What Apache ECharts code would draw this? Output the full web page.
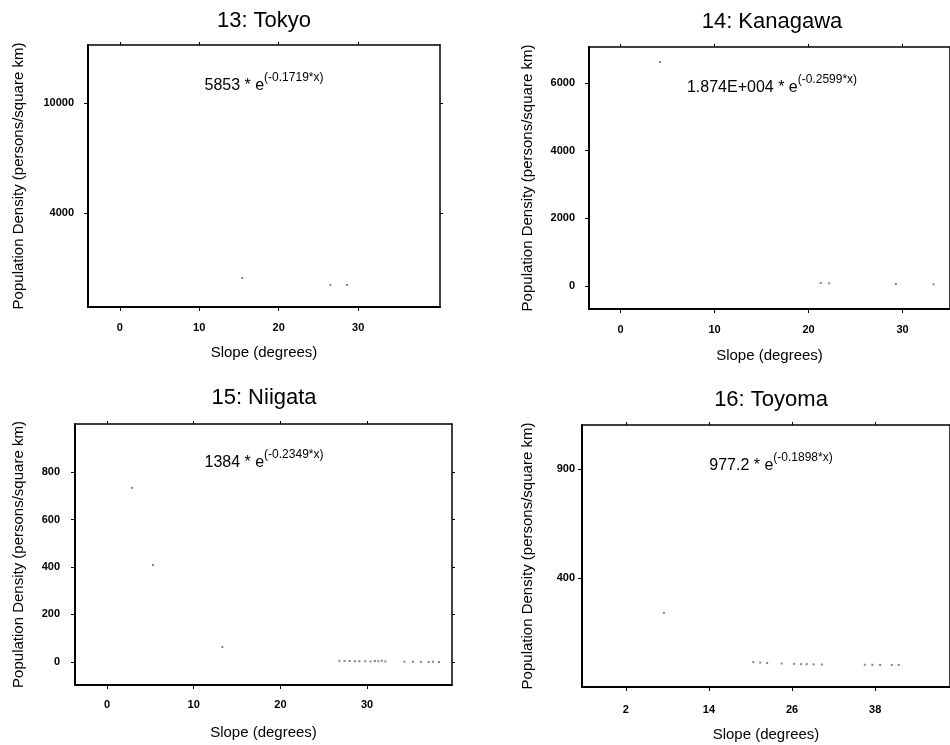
<!DOCTYPE html>
<html>
<head>
<meta charset="utf-8">
<script src="https://cdn.jsdelivr.net/npm/echarts@6/dist/echarts.min.js"></script>
<style>
html,body{margin:0;padding:0;background:#fff;}
#chart{width:950px;height:745px;}
</style>
</head>
<body>
<div id="chart"></div>
<script>
// ---- data ----
var titles = ['13: Tokyo', '14: Kanagawa', '15: Niigata', '16: Toyoma'];
var fitCoef = ['5853', '1.874E+004', '1384', '977.2'];
var fitExp = ['(-0.1719*x)', '(-0.2599*x)', '(-0.2349*x)', '(-0.1898*x)'];

var tokyoSlope = [15.4, 26.5, 28.6];
var tokyoDensity = [455, 75, 70];
var kanagawaSlope = [4.2, 21.3, 22.2, 29.3, 33.3];
var kanagawaDensity = [6620, 90, 80, 60, 50];
var niigataSlope = [2.9, 5.3, 13.3, 26.8, 27.4, 28.0, 28.6, 29.1, 29.8, 30.4, 30.9, 31.3, 31.7, 32.1, 34.3, 35.3, 36.2, 37.1, 37.6, 38.3];
var niigataDensity = [733, 408, 63, 5, 4, 4, 3, 3, 3, 2, 4, 3, 5, 2, 1, 1, 0, 0, 1, 0];
var toyomaSlope = [7.5, 20.4, 21.4, 22.4, 24.5, 26.3, 27.3, 28.1, 29.1, 30.3, 36.5, 37.6, 38.7, 40.4, 41.4];
var toyomaDensity = [240, 15, 12, 10, 8, 6, 5, 5, 4, 3, 2, 2, 1, 1, 1];

var tokyoXTicks = [0, 10, 20, 30];
var tokyoYTicks = [4000, 10000];
var kanagawaXTicks = [0, 10, 20, 30];
var kanagawaYTicks = [0, 2000, 4000, 6000];
var niigataXTicks = [0, 10, 20, 30];
var niigataYTicks = [0, 200, 400, 600, 800];
var toyomaXTicks = [2, 14, 26, 38];
var toyomaYTicks = [400, 900];

var xName = 'Slope (degrees)';
var yName = 'Population Density (persons/square km)';

// ---- layout (styling, not data) ----
var FONT = "'Liberation Sans', Arial, sans-serif";
var panels = [
  {grid:{left:88, top:45, width:352, height:262}, xMin:-4, xMax:40.3, yMin:-1130, yMax:13160,
   xs:tokyoSlope, ys:tokyoDensity, xt:tokyoXTicks, yt:tokyoYTicks, yGap:62, yMargin:14, xMargin:15, xGap:38,
   cx:264, ty:21, ey:83},
  {grid:{left:589, top:47, width:366, height:262}, xMin:-3.36, xMax:35.05, yMin:-680, yMax:7065,
   xs:kanagawaSlope, ys:kanagawaDensity, xt:kanagawaXTicks, yt:kanagawaYTicks, yGap:54, yMargin:14, xMargin:15, xGap:39,
   cx:772, ty:22, ey:85},
  {grid:{left:75, top:424, width:377, height:261}, xMin:-3.7, xMax:39.8, yMin:-97, yMax:1002,
   xs:niigataSlope, ys:niigataDensity, xt:niigataXTicks, yt:niigataYTicks, yGap:49, yMargin:15, xMargin:14, xGap:40,
   cx:264, ty:398, ey:460},
  {grid:{left:582, top:425, width:378, height:262}, xMin:-4.33, xMax:48.8, yMin:-100, yMax:1102,
   xs:toyomaSlope, ys:toyomaDensity, xt:toyomaXTicks, yt:toyomaYTicks, yGap:47, yMargin:7, xMargin:17, xGap:40,
   cx:771, ty:400, ey:463}
];

function plain(v) { return String(v); }

var grids = [], xAxes = [], yAxes = [], series = [], graphics = [];
panels.forEach(function (p, i) {
  grids.push(Object.assign({containLabel:false}, p.grid));
  var lineStyle = {color:'#000', width:2};
  xAxes.push({
    type:'value', gridIndex:i, position:'bottom', min:p.xMin, max:p.xMax,
    axisLine:{show:true, onZero:false, lineStyle:lineStyle},
    axisTick:{show:true, inside:false, length:4, customValues:p.xt, lineStyle:{color:'#000', width:1}},
    axisLabel:{show:true, customValues:p.xt, margin:p.xMargin, formatter:plain, color:'#000', fontSize:11, fontWeight:'bold', fontFamily:FONT},
    splitLine:{show:false},
    name:xName, nameLocation:'middle', nameGap:p.xGap,
    nameTextStyle:{color:'#000', fontSize:15, fontFamily:FONT}
  });
  xAxes.push({
    type:'value', gridIndex:i, position:'top', min:p.xMin, max:p.xMax,
    axisLine:{show:true, onZero:false, lineStyle:{color:'#000', width:1.5}},
    axisTick:{show:true, inside:false, length:3, customValues:p.xt, lineStyle:{color:'#000', width:1}},
    axisLabel:{show:false}, splitLine:{show:false}
  });
  yAxes.push({
    type:'value', gridIndex:i, position:'left', min:p.yMin, max:p.yMax,
    axisLine:{show:true, onZero:false, lineStyle:lineStyle},
    axisTick:{show:true, inside:false, length:4, customValues:p.yt, lineStyle:{color:'#000', width:1}},
    axisLabel:{show:true, customValues:p.yt, margin:p.yMargin, formatter:plain, color:'#000', fontSize:11, fontWeight:'bold', fontFamily:FONT},
    splitLine:{show:false},
    name:yName, nameLocation:'middle', nameGap:p.yGap,
    nameTextStyle:{color:'#000', fontSize:15, fontFamily:FONT}
  });
  yAxes.push({
    type:'value', gridIndex:i, position:'right', min:p.yMin, max:p.yMax,
    axisLine:{show:true, onZero:false, lineStyle:{color:'#000', width:1.5}},
    axisTick:{show:true, inside:false, length:3, customValues:p.yt, lineStyle:{color:'#000', width:1}},
    axisLabel:{show:false}, splitLine:{show:false}
  });
  series.push({
    type:'scatter', xAxisIndex:2*i, yAxisIndex:2*i,
    symbol:'rect', symbolSize:2, itemStyle:{color:'#666'},
    data:p.xs.map(function (x, k) { return [x, p.ys[k]]; }),
    silent:true
  });
  graphics.push({
    type:'text', x:p.cx, y:p.ty,
    style:{text:titles[i], fontSize:22, fontFamily:FONT, fill:'#000', textAlign:'center', textVerticalAlign:'middle'}
  });
  graphics.push({
    type:'text', x:p.cx, y:p.ey,
    style:{
      text:'{m|' + fitCoef[i] + ' * e}{s|' + fitExp[i] + '}',
      textAlign:'center', textVerticalAlign:'middle', fill:'#000',
      rich:{
        m:{fontSize:16, fontFamily:FONT, fill:'#000', lineHeight:22, verticalAlign:'bottom'},
        s:{fontSize:12, fontFamily:FONT, fill:'#000', lineHeight:22, verticalAlign:'top'}
      }
    }
  });
});

var chart = echarts.init(document.getElementById('chart'), null, {renderer:'canvas'});
chart.setOption({
  animation:false,
  backgroundColor:'#fff',
  grid:grids, xAxis:xAxes, yAxis:yAxes, series:series,
  graphic:graphics
});
</script>
</body>
</html>
